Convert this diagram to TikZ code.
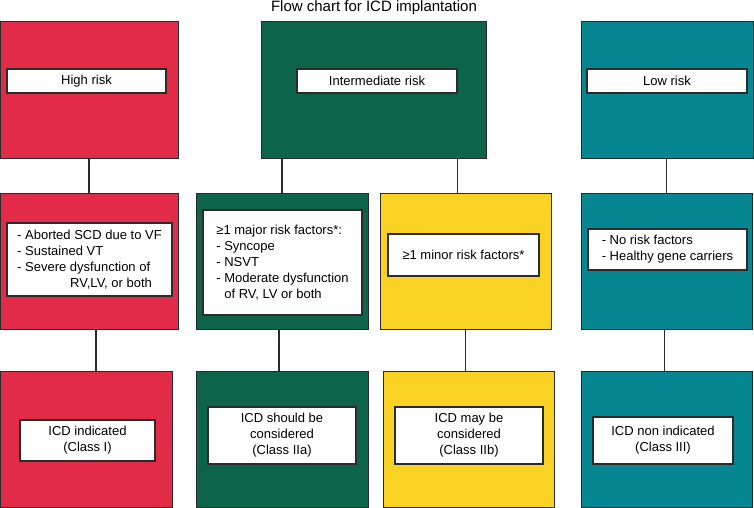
\documentclass[tikz,border=0pt]{standalone}
\usepackage{fontspec}
\setmainfont{Liberation Sans}
\definecolor{highred}{HTML}{E12B47}
\definecolor{midgreen}{HTML}{0C6449}
\definecolor{minoryellow}{HTML}{F9D224}
\definecolor{lowteal}{HTML}{068691}
\definecolor{edge}{HTML}{2B2B2B}
\begin{document}
\begin{tikzpicture}[x=1pt,y=-1pt,
    font=\fontsize{13}{16}\selectfont,
    panel/.style={draw=edge,line width=0.9pt,fill=#1,inner sep=0pt},
    tag/.style={draw=edge,line width=1.1pt,fill=white,inner sep=0pt,align=center},
    link/.style={draw=edge,line width=1.1pt}]
    \useasboundingbox (0,0) rectangle (754,508);
    \node[anchor=base,font=\fontsize{15}{18}\selectfont] (title) at (374,12) {Flow chart for ICD implantation};

    % risk level
    \node[panel=highred,minimum width=178pt,minimum height=137pt] (rt) at (89,89.5) {};
    \node[panel=midgreen,minimum width=225pt,minimum height=137pt] (gt) at (373.5,89.5) {};
    \node[panel=lowteal,minimum width=172pt,minimum height=137pt] (tt) at (667,89.5) {};
    \node[tag,minimum width=159pt,minimum height=24pt] (rtl) at (86.5,81) {High risk};
    \node[tag,minimum width=160pt,minimum height=24pt] (gtl) at (377,81) {Intermediate risk};
    \node[tag,minimum width=160pt,minimum height=24pt] (ttl) at (667,81) {Low risk};

    % risk factors
    \node[panel=highred,minimum width=178pt,minimum height=136pt] (rm) at (89,261) {};
    \node[panel=midgreen,minimum width=172pt,minimum height=136pt] (gm) at (282,261) {};
    \node[panel=minoryellow,minimum width=171pt,minimum height=136pt] (ym) at (465.5,261) {};
    \node[panel=lowteal,minimum width=171pt,minimum height=136pt] (tm) at (666.5,261) {};
    \node[tag,align=left,minimum width=165pt,minimum height=73pt] (rml) at (89.5,259.5)
        {- Aborted SCD due to VF\\- Sustained VT\\- Severe dysfunction of\\\hspace*{53pt}RV,LV, or both};
    \node[tag,align=left,minimum width=159pt,minimum height=105pt] (gml) at (282.5,262.5)
        {≥1 major risk factors*:\\- Syncope\\- NSVT\\- Moderate dysfunction\\\hphantom{- }of RV, LV or both};
    \node[tag,minimum width=151pt,minimum height=42pt] (yml) at (463.5,255) {≥1 minor risk factors*};
    \node[tag,align=left,minimum width=159pt,minimum height=41pt] (tml) at (667.5,249.5)
        {- No risk factors\\- Healthy gene carriers};

    % recommendation
    \node[panel=highred,minimum width=172pt,minimum height=136pt] (rb) at (86,439) {};
    \node[panel=midgreen,minimum width=172pt,minimum height=136pt] (gb) at (282,439) {};
    \node[panel=minoryellow,minimum width=171pt,minimum height=136pt] (yb) at (468.5,439) {};
    \node[panel=lowteal,minimum width=171pt,minimum height=136pt] (tb) at (666.5,439) {};
    \node[tag,minimum width=135pt,minimum height=41pt] (rbl) at (87.5,440.5) {ICD indicated\\(Class I)};
    \node[tag,minimum width=148pt,minimum height=57pt] (gbl) at (282,435.5) {ICD should be\\considered\\(Class IIa)};
    \node[tag,minimum width=148pt,minimum height=57pt] (ybl) at (469,435.5) {ICD may be\\considered\\(Class IIb)};
    \node[tag,minimum width=140pt,minimum height=47pt] (tbl) at (663,440.5) {ICD non indicated\\(Class III)};

    \draw[link] (rt) -- (rm);
    \draw[link] (gm.north) -- (gm.north |- gt.south);
    \draw[link] ([xshift=-8pt]ym.north) -- ([xshift=-8pt]ym.north |- gt.south);
    \draw[link] (tm.north) -- (tm.north |- tt.south);
    \draw[link] ([xshift=7pt]rm.south) -- ([xshift=7pt]rm.south |- rb.north);
    \draw[link] ([xshift=-3pt]gm.south) -- ([xshift=-3pt]gm.south |- gb.north);
    \draw[link] (ym.south) -- (ym.south |- yb.north);
    \draw[link] ([xshift=-2pt]tm.south) -- ([xshift=-2pt]tm.south |- tb.north);
\end{tikzpicture}
\end{document}
